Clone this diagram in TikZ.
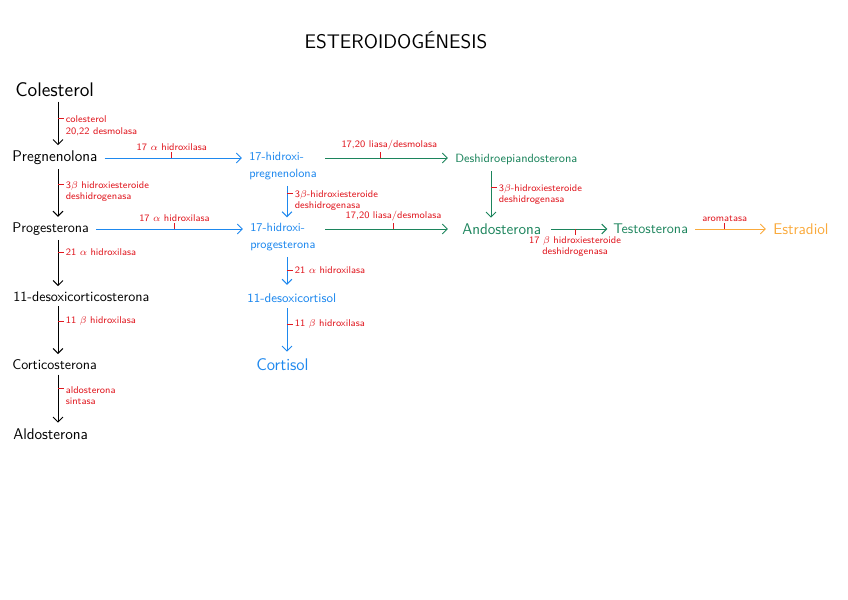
\documentclass[tikz,border=0pt]{standalone}
\usepackage{fontspec}
\usepackage{amsmath}
\usepackage{xcolor}
\usetikzlibrary{arrows.meta}
\renewcommand{\familydefault}{\sfdefault}
\definecolor{enzred}{RGB}{224,24,32}
\definecolor{pathblue}{RGB}{30,136,238}
\definecolor{pathgreen}{RGB}{28,132,92}
\definecolor{pathorange}{RGB}{250,170,60}
\tikzset{
  mol/.style={anchor=west, inner sep=0pt, font=\fontsize{10}{12}\selectfont},
  enz/.style={text=enzred, inner sep=1pt, align=left, font=\fontsize{7}{8}\selectfont},
  enzR/.style={enz, anchor=north west, yshift=3.2pt},
  enzA/.style={enz, anchor=south, align=center},
  enzB/.style={enz, anchor=north, align=center},
  tick/.style={enzred, line width=0.6pt},
  conv/.style={-{Straight Barb[length=3.5pt,width=7pt]}, line width=0.7pt,
    shorten <=5pt, shorten >=5pt},
}
\begin{document}
\begin{tikzpicture}[x=0.025cm, y=-0.025cm]
\useasboundingbox (0,0) rectangle (848,599);

\node[font=\fontsize{14}{16}\selectfont] (title) at (396,40) {ESTEROIDOGÉNESIS};

% columna izquierda
\coordinate (lx) at (58,0);
\node[mol, font=\fontsize{14}{16}\selectfont] (col) at (15,90) {Colesterol};
\node[mol, font=\fontsize{11}{13}\selectfont] (preg) at (12,158) {Pregnenolona};
\node[mol] (prog) at (12,229) {Progesterona};
\node[mol] (doc) at (13,297) {11-desoxicorticosterona};
\node[mol] (cort) at (12,365) {Corticosterona};
\node[mol, font=\fontsize{11}{13}\selectfont] (aldo) at (13,434) {Aldosterona};

% columna azul
\coordinate (bx) at (287,0);
\node[mol, pathblue, align=left, anchor=north west, font=\fontsize{8.5}{12}\selectfont] (hpreg) at (249,152) {17-hidroxi-\\pregnenolona};
\node[mol, pathblue, align=left, anchor=north west, font=\fontsize{8.5}{12}\selectfont] (hprog) at (250,223) {17-hidroxi-\\progesterona};
\node[mol, pathblue, font=\fontsize{9}{11}\selectfont] (doxc) at (247,298) {11-desoxicortisol};
\node[mol, pathblue, font=\fontsize{12}{14}\selectfont] (cortis) at (256,365) {Cortisol};

% andrógenos
\coordinate (gx) at (491,0);
\coordinate (gs) at (325,0);
\node[mol, pathgreen, font=\fontsize{8.5}{10}\selectfont] (dhea) at (455,160) {Deshidroepiandosterona};
\node[mol, pathgreen, font=\fontsize{11}{13}\selectfont] (andro) at (462,229) {Andosterona};
\node[mol, pathgreen] (testo) at (613,229) {Testosterona};
\node[mol, pathorange, font=\fontsize{11}{13}\selectfont] (estra) at (773,229) {Estradiol};

% flechas verticales negras
\draw[conv, shorten <=3pt, shorten >=4pt] (col.south -| lx) -- (preg.north -| lx) coordinate[pos=.4] (e1);
\draw[tick] (e1) -- ++(6,0) node[enzR] {colesterol\\20,22 desmolasa};
\draw[conv, shorten <=3pt, shorten >=4pt] (preg.south -| lx) -- (prog.north -| lx) coordinate[pos=.33] (e2);
\draw[tick] (e2) -- ++(6,0) node[enzR] {3$\beta$ hidroxiesteroide\\deshidrogenasa};
\draw[conv, shorten <=3pt, shorten >=4pt] (prog.south -| lx) -- (doc.north -| lx) coordinate[pos=.3] (e3);
\draw[tick] (e3) -- ++(6,0) node[enz, anchor=west] {21 $\alpha$ hidroxilasa};
\draw[conv, shorten <=3pt, shorten >=4pt] (doc.south -| lx) -- (cort.north -| lx) coordinate[pos=.33] (e4);
\draw[tick] (e4) -- ++(6,0) node[enz, anchor=west] {11 $\beta$ hidroxilasa};
\draw[conv, shorten <=3pt, shorten >=4pt] (cort.south -| lx) -- (aldo.north -| lx) coordinate[pos=.32] (e5);
\draw[tick] (e5) -- ++(6,0) node[enzR] {aldosterona\\sintasa};

% flechas azules
\draw[conv, pathblue] (preg.east) -- (preg.east -| hpreg.west) coordinate[pos=.49] (e6);
\draw[tick] (e6) -- ++(0,-6) node[enzA] {17 $\alpha$ hidroxilasa};
\draw[conv, pathblue] (prog.east) -- (prog.east -| hprog.west) coordinate[pos=.53] (e7);
\draw[tick] (e7) -- ++(0,-6) node[enzA] {17 $\alpha$ hidroxilasa};
\draw[conv, pathblue, shorten <=4pt, shorten >=4pt] (hpreg.south -| bx) -- (hprog.north -| bx) coordinate[pos=.3] (e8);
\draw[tick] (e8) -- ++(6,0) node[enzR] {3$\beta$-hidroxiesteroide\\deshidrogenasa};
\draw[conv, pathblue, shorten <=4pt, shorten >=6pt] (hprog.south -| bx) -- (doxc.north -| bx) coordinate[pos=.45] (e9);
\draw[tick] (e9) -- ++(6,0) node[enz, anchor=west] {21 $\alpha$ hidroxilasa};
\draw[conv, pathblue, shorten <=4pt, shorten >=5pt] (doxc.south -| bx) -- (cortis.north -| bx) coordinate[pos=.38] (e10);
\draw[tick] (e10) -- ++(6,0) node[enz, anchor=west] {11 $\beta$ hidroxilasa};

% flechas verdes y naranja
\draw[conv, pathgreen, shorten <=0pt] (preg -| gs) -- (preg -| dhea.west) coordinate[pos=.43] (e11);
\draw[tick] (e11) -- ++(0,-6) node[enzA, xshift=6pt] {17,20 liasa/desmolasa};
\draw[conv, pathgreen, shorten <=0pt, shorten >=10pt] (prog -| gs) -- (prog -| andro.west) coordinate[pos=.5] (e12);
\draw[tick] (e12) -- ++(0,-6) node[enzA] {17,20 liasa/desmolasa};
\draw[conv, pathgreen, shorten <=4pt, shorten >=4pt] (dhea.south -| gx) -- (andro.north -| gx) coordinate[pos=.38] (e13);
\draw[tick] (e13) -- ++(6,0) node[enzR] {3$\beta$-hidroxiesteroide\\deshidrogenasa};
\draw[conv, pathgreen, shorten <=7pt, shorten >=4pt] (andro.east) -- (testo.west) coordinate[pos=.47] (e14);
\draw[tick] (e14) -- ++(0,6) node[enzB] {17 $\beta$ hidroxiesteroide\\deshidrogenasa};
\draw[conv, pathorange] (testo.east) -- (estra.west) coordinate[pos=.43] (e15);
\draw[tick] (e15) -- ++(0,-6) node[enzA] {aromatasa};
\end{tikzpicture}
\end{document}
